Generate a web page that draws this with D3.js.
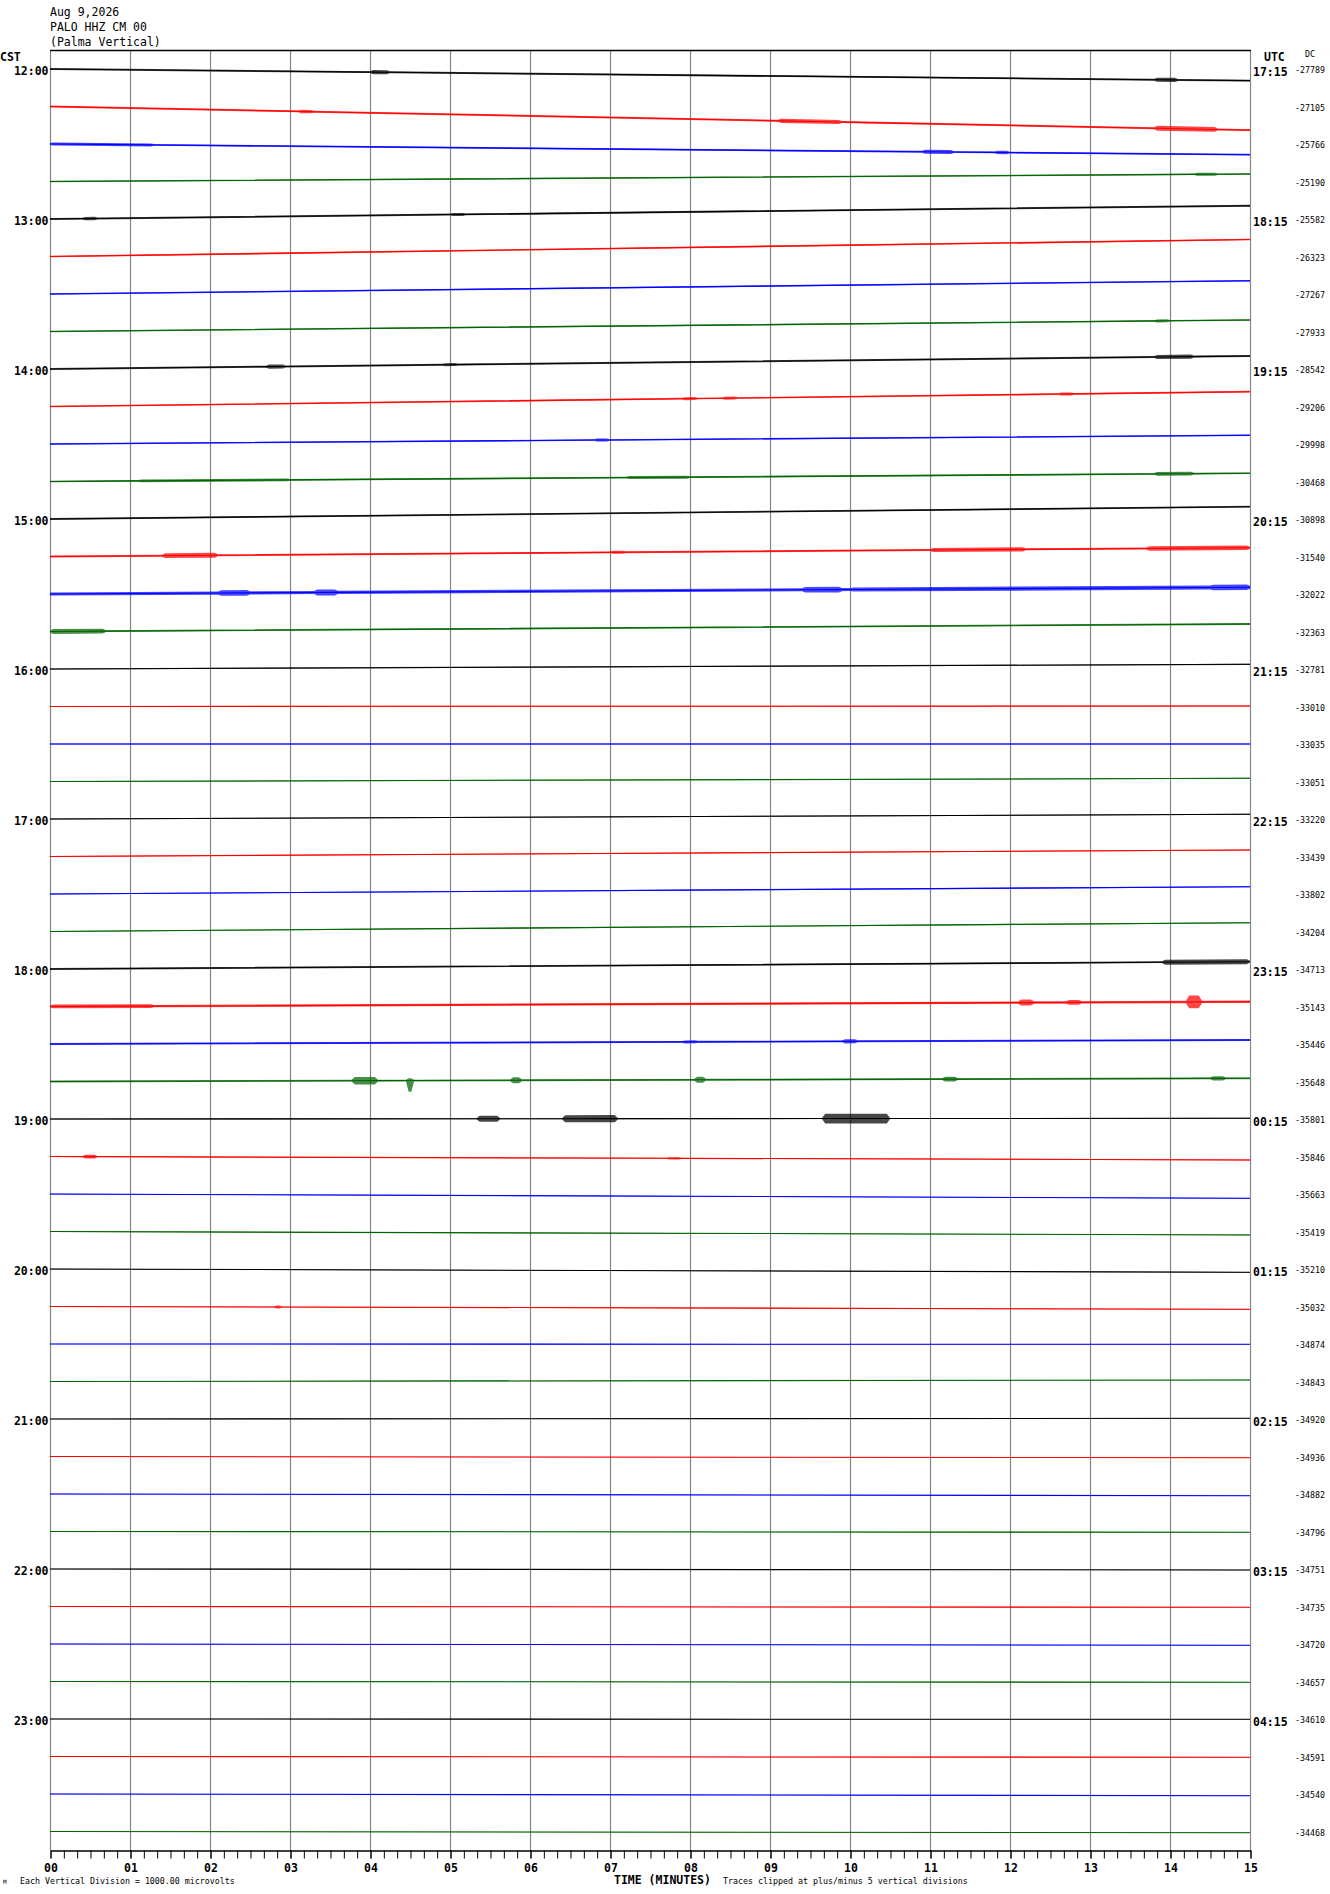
<!DOCTYPE html>
<html>
<head>
<meta charset="utf-8">
<script src="https://cdn.jsdelivr.net/npm/d3@7"></script>
<style>
  body { margin: 0; background: #fff; }
  svg { display: block; }
  text { font-family: "DejaVu Sans Mono", "Liberation Mono", monospace; }
</style>
</head>
<body>
<svg id="chart" width="1330" height="1894"></svg>
<script>
// ---------------- DATA ----------------
const headerLines = ["Aug 9,2026", "PALO HHZ CM 00", "(Palma Vertical)"];
const cstLabels = ["12:00","13:00","14:00","15:00","16:00","17:00","18:00","19:00","20:00","21:00","22:00","23:00"];
const utcLabels = ["17:15","18:15","19:15","20:15","21:15","22:15","23:15","00:15","01:15","02:15","03:15","04:15"];
const minuteLabels = ["00","01","02","03","04","05","06","07","08","09","10","11","12","13","14","15"];
const traceColors = ["#000000", "#ff0000", "#0000ff", "#006400"];

// DC value printed at the right of each 15-minute trace
const dcValues = [
  -27789, -27105, -25766, -25190, -25582, -26323, -27267, -27933,
  -28542, -29206, -29998, -30468, -30898, -31540, -32022, -32363,
  -32781, -33010, -33035, -33051, -33220, -33439, -33802, -34204,
  -34713, -35143, -35446, -35648, -35801, -35846, -35663, -35419,
  -35210, -35032, -34874, -34843, -34920, -34936, -34882, -34796,
  -34751, -34735, -34720, -34657, -34610, -34591, -34540, -34468
];

// drift of each trace between its start and its end (microvolts, + = up)
const driftUV = [
  -310, -630, -285, 200, 355, 453, 355, 307,
  347, 395, 232, 219, 328, 235, 179, 200,
  125, 13, 0, 85, 125, 173, 195, 235,
  195, 128, 107, 85, 19, -93, -115, -93,
  -88, -75, -8, 40, 19, -32, -45, -21,
  -27, -21, -35, -21, -8, -21, -45, -32
];

// background noise half-amplitude of each trace (microvolts)
const baseNoiseUV = [
  26, 26, 24, 20, 26, 22, 20, 20,
  26, 22, 20, 22, 24, 26, 42, 24,
  16, 12, 12, 12, 12, 12, 14, 14,
  24, 32, 26, 24, 14, 12, 10, 10,
  10, 10, 8, 8, 8, 8, 8, 8,
  8, 8, 8, 8, 8, 8, 8, 8
];

// bursts: [trace, start minute, end minute, up amplitude uV, down amplitude uV]
const events = [
  [0, 4.0, 4.25, 55, 55], [0, 13.8, 14.1, 55, 55],
  [1, 3.1, 3.3, 45, 45], [1, 9.1, 9.9, 55, 55], [1, 13.8, 14.6, 65, 65],
  [2, 0.0, 1.3, 40, 40], [2, 10.9, 11.3, 55, 55], [2, 11.8, 12.0, 45, 45],
  [3, 14.3, 14.6, 40, 40],
  [4, 0.4, 0.6, 45, 45], [4, 5.0, 5.2, 40, 40],
  [7, 13.8, 14.0, 40, 40],
  [8, 2.7, 2.95, 55, 55], [8, 4.9, 5.1, 40, 40], [8, 13.8, 14.3, 55, 55],
  [9, 7.9, 8.1, 40, 40], [9, 8.4, 8.6, 40, 40], [9, 12.6, 12.8, 40, 40],
  [10, 6.8, 7.0, 40, 40],
  [11, 1.1, 3.0, 38, 38], [11, 7.2, 8.0, 40, 40], [11, 13.8, 14.3, 50, 50],
  [13, 1.4, 2.1, 65, 65], [13, 7.0, 7.2, 40, 40], [13, 11.0, 12.2, 55, 55], [13, 13.7, 15.0, 60, 60],
  [14, 2.1, 2.5, 75, 75], [14, 3.3, 3.6, 80, 80], [14, 9.4, 9.9, 75, 75], [14, 10.0, 15.0, 55, 55], [14, 14.5, 15.0, 75, 75],
  [15, 0.0, 0.7, 65, 65],
  [24, 13.9, 15.0, 65, 65],
  [25, 0.0, 1.3, 50, 50], [25, 12.1, 12.3, 80, 80], [25, 12.7, 12.9, 65, 65], [25, 14.2, 14.4, 170, 170],
  [26, 7.9, 8.1, 40, 40], [26, 9.9, 10.1, 55, 55],
  [27, 3.77, 4.1, 100, 100], [27, 4.45, 4.55, 60, 300], [27, 5.75, 5.9, 80, 80],
  [27, 8.05, 8.2, 80, 80], [27, 11.15, 11.35, 65, 65], [27, 14.5, 14.7, 55, 55],
  [28, 5.33, 5.63, 80, 80], [28, 6.4, 7.1, 95, 95], [28, 9.65, 10.5, 130, 130],
  [29, 0.4, 0.6, 50, 50], [29, 7.7, 7.9, 30, 30],
  [33, 2.8, 2.9, 40, 40]
];

const captionLeft = "Each Vertical Division = 1000.00 microvolts";
const captionAxis = "TIME (MINUTES)";
const captionRight = "Traces clipped at plus/minus 5 vertical divisions";

// ---------------- DRAW ----------------
const svg = d3.select("#chart");
const nTraces = dcValues.length;

const x = d3.scaleLinear().domain([0, 15]).range([50, 1250]);
const rowY = d3.scaleLinear().domain([0, nTraces - 1]).range([69, 1831.5]);
const uv = d3.scaleLinear().domain([0, 1000]).range([0, 37.5]);   // one vertical division
const plotTop = 50.5, axisY = 1850.5;

svg.append("rect").attr("width", 1330).attr("height", 1894).attr("fill", "#fff");

// header
svg.append("g").selectAll("text").data(headerLines).join("text")
  .attr("x", 50).attr("y", (d, i) => 16 + i * 15)
  .attr("font-size", 11.5).attr("fill", "#000").text(d => d);

// grid lines (minutes)
svg.append("g").selectAll("line").data(d3.range(0, 16)).join("line")
  .attr("x1", d => Math.round(x(d)) + 0.5).attr("x2", d => Math.round(x(d)) + 0.5)
  .attr("y1", plotTop).attr("y2", axisY)
  .attr("stroke", "#858585").attr("stroke-width", 1.2);

// top border
svg.append("line").attr("x1", 50).attr("x2", 1251).attr("y1", plotTop).attr("y2", plotTop)
  .attr("stroke", "#000").attr("stroke-width", 1.3);

// traces
svg.append("defs").append("clipPath").attr("id", "plotclip")
  .append("rect").attr("x", 50).attr("y", plotTop).attr("width", 1201).attr("height", axisY - plotTop);

const gTr = svg.append("g").attr("clip-path", "url(#plotclip)");

function envelopePoints(i) {
  const evs = events.filter(e => e[0] === i);
  const base = baseNoiseUV[i];
  const ramp = e => Math.min(0.04, (e[2] - e[1]) / 3);
  let ts = [0, 15];
  evs.forEach(e => { const r = ramp(e); ts.push(e[1], e[1] + r, e[2] - r, e[2]); });
  ts = Array.from(new Set(ts.map(t => +t.toFixed(4)))).sort((a, b) => a - b);
  return ts.map(t => {
    let up = base, dn = base;
    evs.forEach(e => {
      if (t >= e[1] && t <= e[2]) {
        const r = ramp(e);
        let f = 1;
        if (t < e[1] + r) f = (t - e[1]) / r;
        else if (t > e[2] - r) f = (e[2] - t) / r;
        up = Math.max(up, e[3] * f);
        dn = Math.max(dn, e[4] * f);
      }
    });
    const off = driftUV[i] * t / 15;
    return { t, mid: off, hi: off + up, lo: off - dn };
  });
}

dcValues.forEach((dc, i) => {
  const y0 = rowY(i);
  const pts = envelopePoints(i);
  const col = traceColors[i % 4];
  const area = d3.area()
    .x(d => x(d.t))
    .y0(d => y0 - uv(d.lo))
    .y1(d => y0 - uv(d.hi));
  const line = d3.line()
    .x(d => x(d.t))
    .y(d => y0 - uv(d.mid));
  // noise envelope (sparse spikes -> partly transparent band)
  gTr.append("path").datum(pts)
    .attr("d", area)
    .attr("fill", col).attr("fill-opacity", 0.72).attr("stroke", "none");
  // trace centre line
  gTr.append("path").datum(pts)
    .attr("d", line)
    .attr("fill", "none").attr("stroke", col).attr("stroke-width", 1.1);
});

// left (CST) and right (UTC) hour labels
svg.append("text").attr("x", 0).attr("y", 61).attr("font-size", 11.5).attr("font-weight", "bold").text("CST");
svg.append("text").attr("x", 1264).attr("y", 61).attr("font-size", 11.5).attr("font-weight", "bold").text("UTC");
svg.append("text").attr("x", 1305).attr("y", 57).attr("font-size", 8.3).text("DC");

svg.append("g").selectAll("text").data(cstLabels).join("text")
  .attr("x", 48.5).attr("y", (d, k) => rowY(k * 4) + 6)
  .attr("text-anchor", "end").attr("font-size", 11.5).attr("font-weight", "bold").text(d => d);

svg.append("g").selectAll("text").data(utcLabels).join("text")
  .attr("x", 1253).attr("y", (d, k) => rowY(k * 4) + 6.5)
  .attr("font-size", 11.5).attr("font-weight", "bold").text(d => d);

svg.append("g").selectAll("text").data(dcValues).join("text")
  .attr("x", 1295).attr("y", (d, i) => rowY(i) + 4)
  .attr("font-size", 8.3).text(d => d);

// bottom axis: minor ticks every 10 s, labelled minutes
const minorAxis = d3.axisBottom(x)
  .tickValues(d3.range(0, 91).map(k => k / 6))
  .tickSize(8).tickSizeOuter(0).tickFormat("");
const gMinor = svg.append("g").attr("transform", `translate(0.5,${axisY})`).call(minorAxis);
gMinor.select(".domain").attr("stroke", "#000").attr("stroke-width", 1.3);
gMinor.selectAll(".tick line").attr("stroke", "#000");

const majorAxis = d3.axisBottom(x)
  .tickValues(d3.range(0, 16))
  .tickSize(8).tickSizeOuter(0).tickPadding(5)
  .tickFormat((d, i) => minuteLabels[i]);
const gMajor = svg.append("g").attr("transform", `translate(0.5,${axisY})`).call(majorAxis);
gMajor.select(".domain").remove();
gMajor.selectAll(".tick line").attr("stroke", "#000");
gMajor.selectAll(".tick text")
  .attr("font-family", "\"DejaVu Sans Mono\", monospace")
  .attr("font-size", 11.5).attr("font-weight", "bold").attr("fill", "#000");

// captions
svg.append("text").attr("x", 3).attr("y", 1884).attr("font-size", 6).text("M");
svg.append("text").attr("x", 20).attr("y", 1883.5).attr("font-size", 8.3).text(captionLeft);
svg.append("text").attr("x", 614).attr("y", 1884).attr("font-size", 11.5).attr("font-weight", "bold").text(captionAxis);
svg.append("text").attr("x", 723).attr("y", 1883.5).attr("font-size", 8.3).text(captionRight);
</script>
</body>
</html>
